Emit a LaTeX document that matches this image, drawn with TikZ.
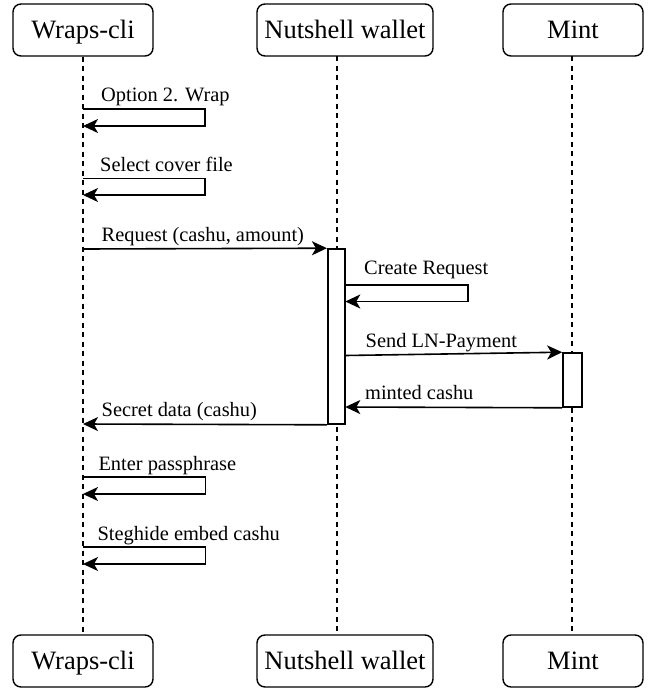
\documentclass[tikz,border=0pt]{standalone}
\usepackage{fontspec}
\setmainfont{Liberation Serif}
\usetikzlibrary{arrows.meta}
\begin{document}
\begin{tikzpicture}[x=1pt,y=-1pt,
 actor/.style={draw, line width=1.4pt, rounded corners=8pt, minimum height=52pt, inner sep=0pt, text height=17.5pt, text depth=0pt, font=\fontsize{26.5}{30}\selectfont},
 life/.style={line width=1.5pt, dash pattern=on 5pt off 4.5pt},
 actbox/.style={draw, fill=white, line width=1.6pt, inner sep=0pt},
 msg/.style={line width=1.6pt, -{Stealth[length=15pt,width=14pt,inset=4pt]}},
 lbl/.style={anchor=base west, inner sep=0pt, font=\fontsize{20.4}{24}\selectfont}]
\useasboundingbox (0,0) rectangle (649,691);
% actors
\node[actor, minimum width=140pt] (w1) at (83,30) {Wraps-cli};
\node[actor, minimum width=176pt] (n1) at (345,30) {Nutshell wallet};
\node[actor, minimum width=140pt] (m1) at (573,30) {Mint};
\node[actor, minimum width=140pt] (w2) at (83,661) {Wraps-cli};
\node[actor, minimum width=176pt] (n2) at (345,661) {Nutshell wallet};
\node[actor, minimum width=140pt] (m2) at (573,661) {Mint};
% lifelines
\coordinate (nt) at (336.8,56);
\coordinate (nb) at (336.8,635);
\coordinate (mt) at (571.8,56);
\coordinate (mb) at (571.8,635);
\draw[life] (w1.south) -- (w2.north);
\draw[life] (nt) -- (nb);
\draw[life] (mt) -- (mb);
% activations
\node[actbox, minimum width=17.5pt, minimum height=175pt] (na) at (336.5,336.5) {};
\node[actbox, minimum width=19pt, minimum height=54pt] (ma) at (572.5,380) {};
% messages
\coordinate (s1) at (83,109);  \coordinate (e1) at (83,126);
\draw[msg] (s1) -- ++(122,0) |- (e1);
\node[lbl] (l1) at (101,101.5) {Option 2. Wrap};

\coordinate (s2) at (83,178.5);  \coordinate (e2) at (83,195);
\draw[msg] (s2) -- ++(122,0) |- (e2);
\node[lbl] (l2) at (100,171) {Select cover file};

\coordinate (s3) at (83,249);
\draw[msg] (s3) -- (na.north west);
\node[lbl] (l3) at (101.5,241) {Request (cashu, amount)};

\coordinate (s4) at (345.3,285);  \coordinate (e4) at (345.3,301.5);
\draw[msg] (s4) -- ++(122.5,0) |- (e4);
\node[lbl] (l4) at (364,274.3) {Create Request};

\coordinate (s5) at (345.3,355.5);
\draw[msg] (s5) -- (ma.north west);
\node[lbl] (l5) at (365.5,347.3) {Send LN-Payment};

\coordinate (e6) at (345.3,407);
\draw[msg] (ma.south west) -- (e6);
\node[lbl] (l6) at (365,399) {minted cashu};

\coordinate (e7) at (83,424);
\draw[msg] (na.south west) -- (e7);
\node[lbl] (l7) at (101.5,416) {Secret data (cashu)};

\coordinate (s8) at (83,477);  \coordinate (e8) at (83,494);
\draw[msg] (s8) -- ++(122.5,0) |- (e8);
\node[lbl] (l8) at (98.3,470) {Enter passphrase};

\coordinate (s9) at (83,547);  \coordinate (e9) at (83,564);
\draw[msg] (s9) -- ++(122.5,0) |- (e9);
\node[lbl] (l9) at (97.3,540) {Steghide embed cashu};
\end{tikzpicture}
\end{document}
